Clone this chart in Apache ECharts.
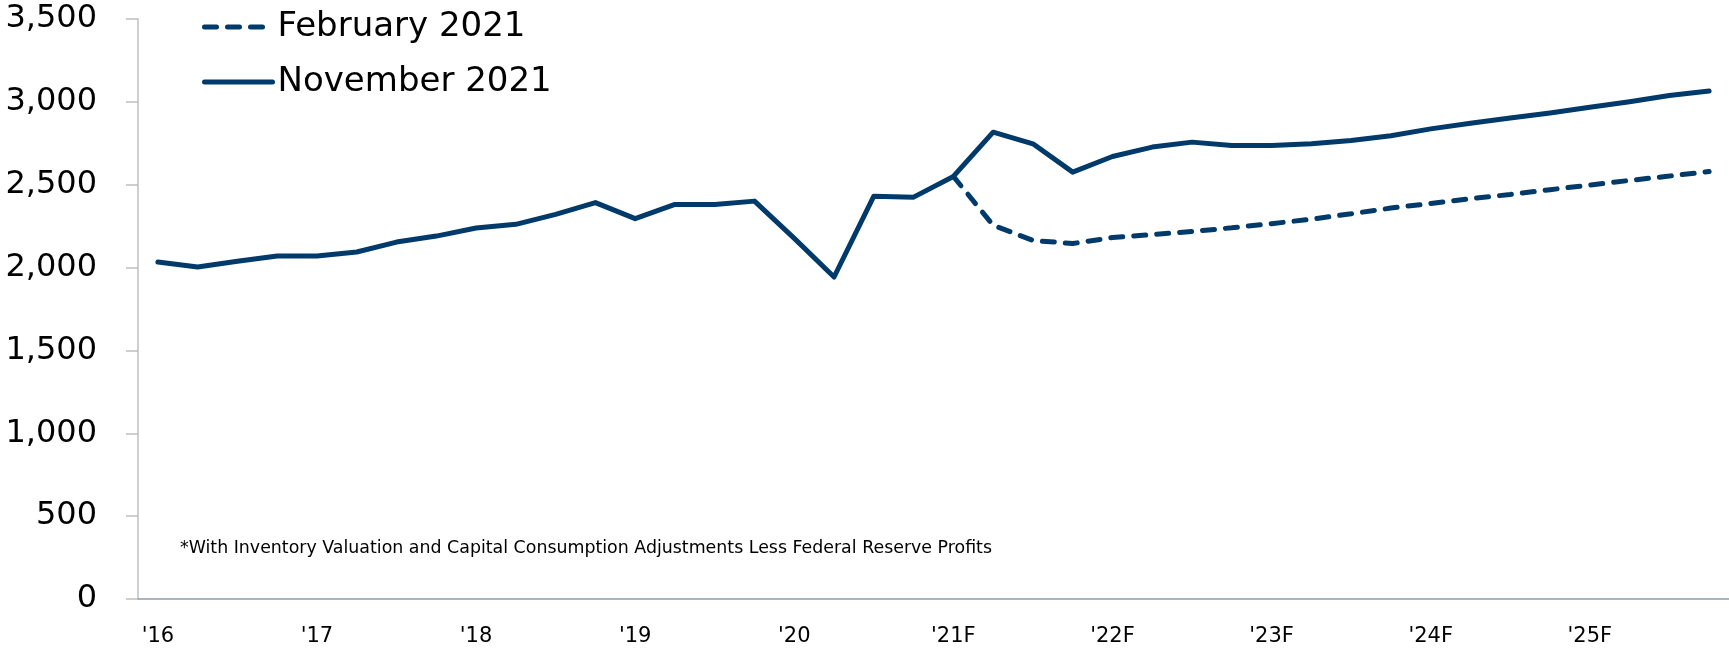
<!DOCTYPE html>
<html>
<head>
<meta charset="utf-8">
<script src="https://cdn.jsdelivr.net/npm/echarts@6/dist/echarts.min.js"></script>
<style>
  html, body { margin: 0; padding: 0; background: #fff; }
  #chart { width: 1729px; height: 648px; }
</style>
</head>
<body>
<div id="chart"></div>
<script>
// year tick labels, one per 4 quarters
var yearLabels = ["'16", "'17", "'18", "'19", "'20", "'21F", "'22F", "'23F", "'24F", "'25F"];

// November 2021 forecast (solid), quarterly 2016Q1 - 2025Q4
var novValues = [
  2034, 2004, 2038, 2070, 2070, 2094, 2154, 2190, 2239, 2261,
  2321, 2392, 2295, 2381, 2380, 2401, 2176, 1943, 2431, 2425,
  2550, 2817, 2747, 2576, 2670, 2727, 2757, 2737, 2737, 2747,
  2767, 2795, 2837, 2871, 2903, 2933, 2967, 3001, 3038, 3065
];

// February 2021 forecast (dashed), starts at 2021Q1
var febValues = [
  null, null, null, null, null, null, null, null, null, null,
  null, null, null, null, null, null, null, null, null, null,
  2550, 2255, 2164, 2145, 2181, 2199, 2218, 2240, 2265, 2292,
  2325, 2359, 2387, 2416, 2441, 2470, 2498, 2526, 2552, 2580
];

var quarters = [];
yearLabels.forEach(function (y) {
  for (var q = 1; q <= 4; q++) quarters.push(y + '|Q' + q);
});

var navy = '#003A6A';
var font = 'DejaVu Sans';
var dashStyle = { color: navy, width: 5, type: [12, 11], cap: 'round' };
var solidStyle = { color: navy, width: 5, cap: 'round', join: 'round' };
var hiddenDot = { color: 'transparent', borderColor: 'transparent', borderWidth: 0, opacity: 0 };

var chart = echarts.init(document.getElementById('chart'));
var option = {
  animation: false,
  grid: { left: 138, right: 0, top: 19, bottom: 49, containLabel: false },
  legend: {
    orient: 'vertical',
    left: 197,
    top: 5,
    itemWidth: 68,
    itemHeight: 14,
    itemGap: 21,
    textStyle: { fontFamily: font, fontSize: 34, color: '#000' },
    itemStyle: hiddenDot,
    data: [
      { name: 'February 2021', lineStyle: dashStyle, itemStyle: hiddenDot },
      { name: 'November 2021', lineStyle: solidStyle, itemStyle: hiddenDot }
    ]
  },
  xAxis: {
    type: 'category',
    data: quarters,
    boundaryGap: true,
    axisLine: { lineStyle: { color: '#8E9AAE', width: 1.5 } },
    axisTick: { interval: 3, length: 12, lineStyle: { color: '#8E9AAE', width: 1.5 } },
    axisLabel: {
      interval: 3,
      margin: 27,
      fontFamily: font,
      fontSize: 21,
      color: '#000',
      formatter: function (v) { return v.split('|')[0]; }
    },
    splitLine: { show: false }
  },
  yAxis: {
    type: 'value',
    min: 0,
    max: 3500,
    interval: 500,
    axisLine: { show: true, lineStyle: { color: '#BFBFBF', width: 1.5 } },
    axisTick: { show: true, length: 12, lineStyle: { color: '#BFBFBF', width: 1.5 } },
    axisLabel: {
      margin: 41,
      fontFamily: font,
      fontSize: 32,
      color: '#000',
      formatter: function (v) { return v.toLocaleString('en-US'); }
    },
    splitLine: { show: false }
  },
  graphic: [{
    type: 'text',
    left: 180,
    top: 540,
    style: {
      text: '*With Inventory Valuation and Capital Consumption Adjustments Less Federal Reserve Profits',
      font: '17.4px "DejaVu Sans"',
      fill: '#000'
    }
  }],
  series: [
    {
      name: 'February 2021',
      type: 'line',
      data: febValues,
      symbol: 'none',
      lineStyle: dashStyle,
      itemStyle: { color: navy }
    },
    {
      name: 'November 2021',
      type: 'line',
      data: novValues,
      symbol: 'none',
      lineStyle: solidStyle,
      itemStyle: { color: navy }
    }
  ]
};
chart.setOption(option);
</script>
</body>
</html>
